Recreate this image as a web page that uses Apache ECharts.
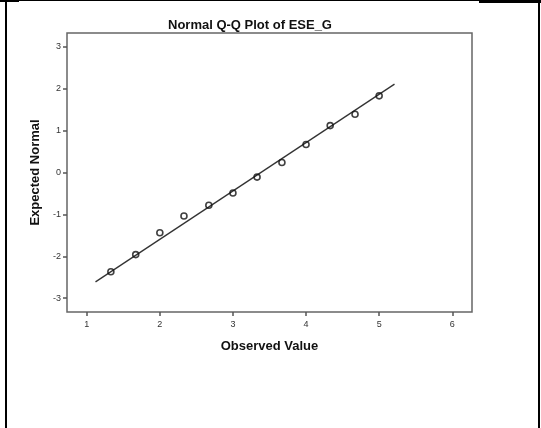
<!DOCTYPE html>
<html>
<head>
<meta charset="utf-8">
<script src="https://cdn.jsdelivr.net/npm/echarts@6/dist/echarts.min.js"></script>
<style>
  html, body { margin: 0; padding: 0; background: #fff; }
  #chart { width: 541px; height: 428px; }
</style>
</head>
<body>
<div id="chart"></div>
<script>
// Observed values and their expected normal quantiles
const observed = [1.33, 1.67, 2, 2.33, 2.67, 3, 3.33, 3.67, 4, 4.33, 4.67, 5];
const expected = [-2.37, -1.96, -1.44, -1.04, -0.78, -0.49, -0.11, 0.24, 0.67, 1.12, 1.39, 1.83];

// Reference line endpoints (observed, expected)
const lineX = [1.12, 5.21];
const lineY = [-2.61, 2.11];

// Tick labels
const xTicks = [1, 2, 3, 4, 5, 6];
const yTicks = [-3, -2, -1, 0, 1, 2, 3];

const font = '"Liberation Sans", Arial, sans-serif';

const chart = echarts.init(document.getElementById('chart'), null, { renderer: 'canvas' });

chart.setOption({
  animation: false,
  backgroundColor: '#fff',
  title: {
    text: 'Normal Q-Q Plot of ESE_G',
    left: 245,
    top: 14,
    textAlign: 'center',
    textStyle: { fontFamily: font, fontSize: 13, fontWeight: 'bold', color: '#111' }
  },
  grid: {
    left: 67, right: 69, top: 33, bottom: 116,
    show: true,
    borderColor: '#666',
    borderWidth: 1.5,
    backgroundColor: '#fff'
  },
  xAxis: {
    type: 'value',
    min: 0.73, max: 6.27,
    name: 'Observed Value',
    nameLocation: 'middle',
    nameGap: 28,
    nameTextStyle: { fontFamily: font, fontSize: 13, fontWeight: 'bold', color: '#111' },
    axisLine: { show: false, onZero: false },
    splitLine: { show: false },
    axisTick: { show: true, length: 4, inside: false, customValues: xTicks,
      lineStyle: { color: '#555', width: 1.5 } },
    axisLabel: { customValues: xTicks, margin: 8, fontFamily: font, fontSize: 9, color: '#333' }
  },
  yAxis: {
    type: 'value',
    min: -3.33, max: 3.33,
    name: 'Expected Normal',
    nameLocation: 'middle',
    nameGap: 22,
    nameTextStyle: { fontFamily: font, fontSize: 13, fontWeight: 'bold', color: '#111' },
    axisLine: { show: false, onZero: false },
    splitLine: { show: false },
    axisTick: { show: true, length: 4, inside: false, customValues: yTicks,
      lineStyle: { color: '#555', width: 1.5 } },
    axisLabel: { customValues: yTicks, margin: 6, fontFamily: font, fontSize: 9, color: '#333' }
  },
  series: [
    {
      type: 'line',
      data: lineX.map((x, i) => [x, lineY[i]]),
      showSymbol: false,
      symbol: 'none',
      lineStyle: { color: '#333', width: 1.3 },
      z: 1,
      silent: true
    },
    {
      type: 'scatter',
      data: observed.map((x, i) => [x, expected[i]]),
      symbol: 'circle',
      symbolSize: 6,
      itemStyle: { color: 'rgba(255,255,255,0)', borderColor: '#111', borderWidth: 1.6 },
      z: 2
    }
  ],
  graphic: [
    { type: 'rect', shape: { x: 5, y: 0, width: 2, height: 428 }, style: { fill: '#000' } },
    { type: 'rect', shape: { x: 538, y: 0, width: 2, height: 428 }, style: { fill: '#000' } },
    { type: 'rect', shape: { x: 0, y: 0, width: 19, height: 2 }, style: { fill: '#000' } },
    { type: 'rect', shape: { x: 19, y: 0, width: 460, height: 1 }, style: { fill: '#000' } },
    { type: 'rect', shape: { x: 479, y: 0, width: 62, height: 3 }, style: { fill: '#000' } }
  ]
});
</script>
</body>
</html>
